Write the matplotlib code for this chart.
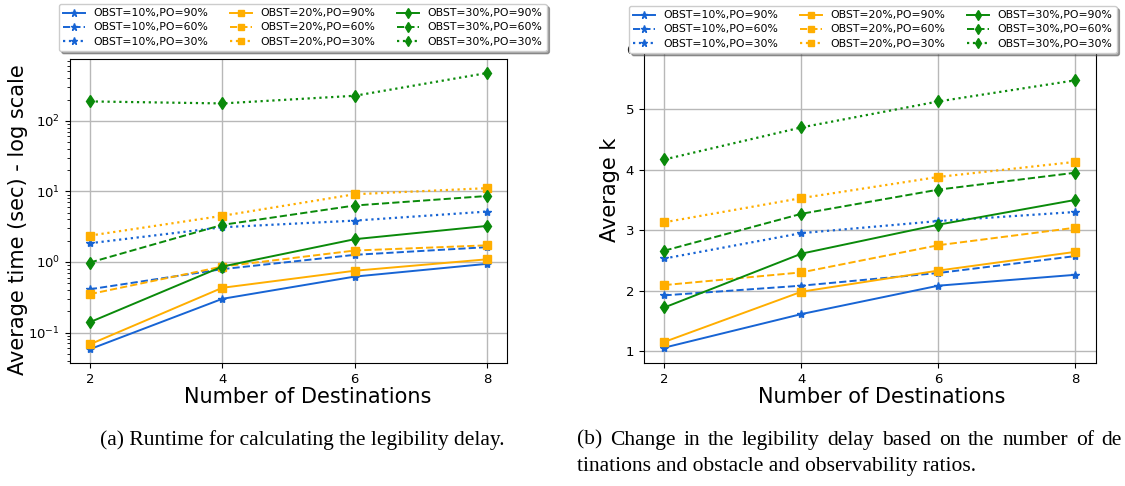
import matplotlib
matplotlib.use("Agg")
import matplotlib.pyplot as plt
import numpy as np

# Number of destinations
destinations = [2, 4, 6, 8]

# (a) runtime in seconds, log scale
time_o10_p90 = [0.058, 0.30, 0.62, 0.94]
time_o10_p60 = [0.41, 0.79, 1.26, 1.62]
time_o10_p30 = [1.84, 3.1, 3.85, 5.17]
time_o20_p90 = [0.068, 0.43, 0.75, 1.09]
time_o20_p60 = [0.35, 0.86, 1.45, 1.72]
time_o20_p30 = [2.36, 4.5, 9.1, 11.1]
time_o30_p90 = [0.14, 0.86, 2.1, 3.24]
time_o30_p60 = [0.98, 3.35, 6.3, 8.6]
time_o30_p30 = [188, 176, 226, 475]

# (b) average k
k_o10_p90 = [1.055, 1.61, 2.08, 2.26]
k_o10_p60 = [1.92, 2.08, 2.29, 2.57]
k_o10_p30 = [2.53, 2.95, 3.15, 3.30]
k_o20_p90 = [1.15, 1.98, 2.33, 2.64]
k_o20_p60 = [2.09, 2.30, 2.75, 3.04]
k_o20_p30 = [3.13, 3.53, 3.88, 4.13]
k_o30_p90 = [1.72, 2.61, 3.09, 3.50]
k_o30_p60 = [2.66, 3.27, 3.67, 3.95]
k_o30_p30 = [4.17, 4.70, 5.13, 5.48]

labels = ["OBST=10%,PO=90%", "OBST=10%,PO=60%", "OBST=10%,PO=30%",
          "OBST=20%,PO=90%", "OBST=20%,PO=60%", "OBST=20%,PO=30%",
          "OBST=30%,PO=90%", "OBST=30%,PO=60%", "OBST=30%,PO=30%"]

time_series = [time_o10_p90, time_o10_p60, time_o10_p30,
               time_o20_p90, time_o20_p60, time_o20_p30,
               time_o30_p90, time_o30_p60, time_o30_p30]
k_series = [k_o10_p90, k_o10_p60, k_o10_p30,
            k_o20_p90, k_o20_p60, k_o20_p30,
            k_o30_p90, k_o30_p60, k_o30_p30]

caption_a = "(a) Runtime for calculating the legibility delay."
caption_b1 = "(b) Change in the legibility delay based on the number of de"
caption_b2 = "tinations and obstacle and observability ratios."

# estils: color i marcador per obstacle, tipus de línia per PO
blue = "#1764d4"
orange = "#ffae00"
green = "#0a8a0a"
styles = []
for color, marker, ms in [(blue, "*", 6), (orange, "s", 5.5), (green, "d", 6.5)]:
    for ls in ["-", "--", ":"]:
        styles.append(dict(color=color, marker=marker, markersize=ms, linestyle=ls,
                           linewidth=1.6 if ls == ":" else 1.4))

fig = plt.figure(figsize=(11.25, 4.86), dpi=100)

ax1 = fig.add_axes([0.0622, 0.2531, 0.3885, 0.6255])
ax2 = fig.add_axes([0.5724, 0.2531, 0.4018, 0.6712])

for vals, lab, st in zip(time_series, labels, styles):
    ax1.plot(destinations, vals, label=lab, **st)
for vals, lab, st in zip(k_series, labels, styles):
    ax2.plot(destinations, vals, label=lab, **st)

ax1.set_yscale("log")
ax1.set_ylim(0.037, 750)
ax1.set_xlim(1.7, 8.3)
ax2.set_xlim(1.7, 8.3)
ax2.set_ylim(0.8, 6.2)

for ax in (ax1, ax2):
    ax.set_xticks(destinations)
    ax.tick_params(labelsize=9.5)
    ax.grid(True, color="#b8b8b8", linewidth=1.0)
    ax.set_xlabel("Number of Destinations", fontsize=15, va="center")

ax1.xaxis.set_label_coords(0.545, -0.112)
ax2.xaxis.set_label_coords(0.527, -0.104)
ax1.set_ylabel("Average time (sec) - log scale", fontsize=15, va="center")
ax1.yaxis.set_label_coords(-0.12, 0.47)
ax2.set_ylabel("Average k", fontsize=15, va="center")
ax2.yaxis.set_label_coords(-0.075, 0.53)

leg_kw = dict(ncol=3, loc="upper left", fontsize=7.8, labelspacing=0.38,
              shadow=True, borderaxespad=0, framealpha=1.0, markerscale=0.85)
ax1.legend(bbox_to_anchor=(59 / 1125, 1 - 4 / 486), bbox_transform=fig.transFigure, **leg_kw)
ax2.legend(bbox_to_anchor=(629 / 1125, 1 - 6 / 486), bbox_transform=fig.transFigure, **leg_kw)

cap_font = dict(family="Liberation Serif", fontsize=15.5, va="center", ha="left")
fig.text(100 / 1125, 1 - 440 / 486, caption_a, **cap_font)
fig.text(577 / 1125, 1 - 466 / 486, caption_b2, **cap_font)

# primera línia de (b) justificada fins a la vora dreta, com al document
renderer = fig.canvas.get_renderer()
words = caption_b1.split(" ")
x0, x1 = 577, 1122
pieces = [fig.text(0, 1 - 440 / 486, w, **cap_font) for w in words]
widths = [p.get_window_extent(renderer).width for p in pieces]
gap = (x1 - x0 - sum(widths)) / (len(words) - 1)
x = x0
for p, w in zip(pieces, widths):
    p.set_x(x / 1125)
    x += w + gap

fig.savefig("out.png", dpi=100)
